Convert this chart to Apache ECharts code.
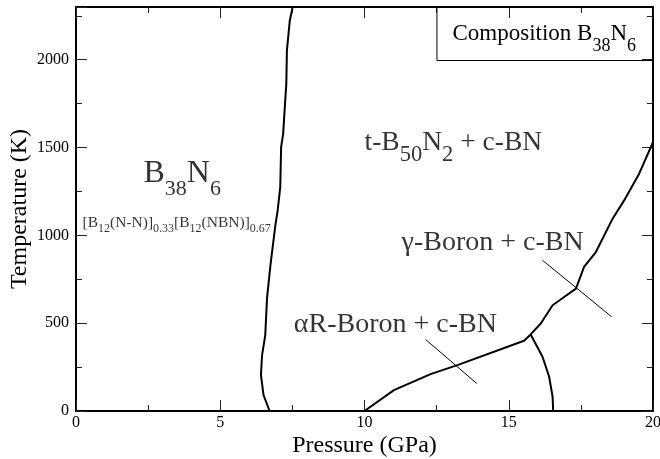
<!DOCTYPE html>
<html>
<head>
<meta charset="utf-8">
<script src="https://cdn.jsdelivr.net/npm/echarts@6/dist/echarts.min.js"></script>
<style>
html,body{margin:0;padding:0;background:#fff;}
#chart{width:660px;height:459px;}
</style>
</head>
<body>
<div id="chart"></div>
<script>
// Phase boundaries: [pressure (GPa), temperature (K)]
const boundaryB38N6 = [[6.71,0],[6.50,91],[6.41,205],[6.45,318],[6.56,432],[6.62,640],[6.74,830],[6.91,1057],[6.99,1142],[7.08,1274],[7.11,1502],[7.18,1578],[7.23,1710],[7.29,1862],[7.31,2051],[7.41,2222],[7.51,2300]];
const boundaryLower = [[10.0,0],[11.02,119],[12.29,210],[13.22,261],[15.53,400],[15.76,436],[16.11,498],[16.52,602],[16.92,649],[17.33,697],[17.61,820],[18.02,905],[18.6,1095],[19.0,1199],[19.52,1351],[20.0,1530]];
const boundaryAlphaGamma = [[15.76,436],[16.17,309],[16.40,195],[16.52,81],[16.54,0]];
const leaderAlpha = [[12.12,407],[13.89,157]];
const leaderGamma = [[16.17,858],[18.57,536]];
// Region labels: [pressure, temperature, key]
const regionLabels = [
  [3.68, 1349, 'b38n6'],
  [3.49, 1073, 'formula'],
  [13.08, 1529, 'tb50'],
  [11.07, 492, 'alpha'],
  [14.44, 957, 'gamma']
];
const labelTexts = {
  b38n6: '{big|B}{bigs|38}{big|N}{bigs|6}',
  formula: '{sm|[B}{sms|12}{sm|(N-N)]}{sms|0.33}{sm|[B}{sms|12}{sm|(NBN)]}{sms|0.67}',
  tb50: '{md|t-B}{mds|50}{md|N}{mds|2}{md| + c-BN}',
  alpha: '{md2|\u03b1R-Boron + c-BN}',
  gamma: '{md2|\u03b3-Boron + c-BN}'
};
const boxText = '{tt|Composition B}{tts|38}{tt|N}{tts|6}';
const xTicks = {min: 0, max: 20, interval: 5};
const yTicks = {min: 0, max: 2300, interval: 500};

const FONT = 'Liberation Serif';
const chart = echarts.init(document.getElementById('chart'), null, {renderer: 'canvas'});

function axisCommon(showLabels) {
  return {
    axisLine: {show: true, onZero: false, lineStyle: {color: '#000', width: 2}},
    axisTick: {show: true, inside: true, length: 11, lineStyle: {color: '#222', width: 1}},
    minorTick: {show: true, splitNumber: 2, length: 6, lineStyle: {color: '#222', width: 1}},
    splitLine: {show: false},
    minorSplitLine: {show: false},
    axisLabel: {show: showLabels, color: '#000', fontFamily: FONT, fontSize: 16}
  };
}

const lineSeries = (data, w) => ({
  type: 'line', data: data, showSymbol: false, symbol: 'none', silent: true,
  lineStyle: {color: '#000', width: w}, animation: false, z: 3
});

const tok = (size, pad) => ({fontFamily: FONT, fontSize: size, color: '#000', fontWeight: 'normal',
  padding: pad ? [pad, 0, 0, 0] : 0});
const rich = {
  big: tok(32), bigs: tok(22, 30),
  md: tok(27.5), mds: tok(22.5, 25),
  md2: tok(28),
  sm: tok(15.5), sms: tok(12, 12),
  tt: tok(23), tts: tok(18, 24)
};

const option = {
  animation: false,
  backgroundColor: '#fff',
  title: {
    text: boxText,
    right: 7, top: -2,
    padding: [15, 17, 6, 16],
    borderColor: '#000', borderWidth: 1,
    textStyle: {fontWeight: 'normal', rich: rich}
  },
  grid: {left: 76, right: 7, top: 7, bottom: 48, containLabel: false, outerBoundsMode: 'none'},
  xAxis: [
    Object.assign({type: 'value', position: 'bottom', min: xTicks.min, max: xTicks.max, interval: xTicks.interval,
      name: 'Pressure (GPa)', nameLocation: 'middle', nameGap: 23, nameMoveOverlap: false,
      nameTextStyle: {fontFamily: FONT, fontSize: 24, color: '#000'}}, axisCommon(true),
      {axisLabel: {show: true, color: '#000', fontFamily: FONT, fontSize: 16, margin: 4, hideOverlap: false}}),
    Object.assign({type: 'value', position: 'top', min: xTicks.min, max: xTicks.max, interval: xTicks.interval}, axisCommon(false))
  ],
  yAxis: [
    Object.assign({type: 'value', position: 'left', min: yTicks.min, max: yTicks.max, interval: yTicks.interval,
      name: 'Temperature (K)', nameLocation: 'middle', nameGap: 44, nameRotate: 90, nameMoveOverlap: false,
      nameTextStyle: {fontFamily: FONT, fontSize: 24, color: '#000'}}, axisCommon(true),
      {axisLabel: {show: true, color: '#000', fontFamily: FONT, fontSize: 16, margin: 7,
        showMaxLabel: false, formatter: v => String(v)}}),
    Object.assign({type: 'value', position: 'right', min: yTicks.min, max: yTicks.max, interval: yTicks.interval}, axisCommon(false))
  ],
  series: [
    lineSeries(boundaryB38N6, 2),
    lineSeries(boundaryLower, 2),
    lineSeries(boundaryAlphaGamma, 2),
    lineSeries(leaderAlpha, 1),
    lineSeries(leaderGamma, 1),
    {
      type: 'scatter', symbolSize: 1, itemStyle: {color: 'rgba(0,0,0,0)'}, silent: true, z: 5,
      data: regionLabels.map(r => ({value: [r[0], r[1]], key: r[2]})),
      label: {
        show: true, position: 'inside', align: 'center', verticalAlign: 'middle',
        formatter: p => labelTexts[p.data.key],
        rich: rich
      }
    }
  ]
};
chart.setOption(option);
</script>
</body>
</html>
